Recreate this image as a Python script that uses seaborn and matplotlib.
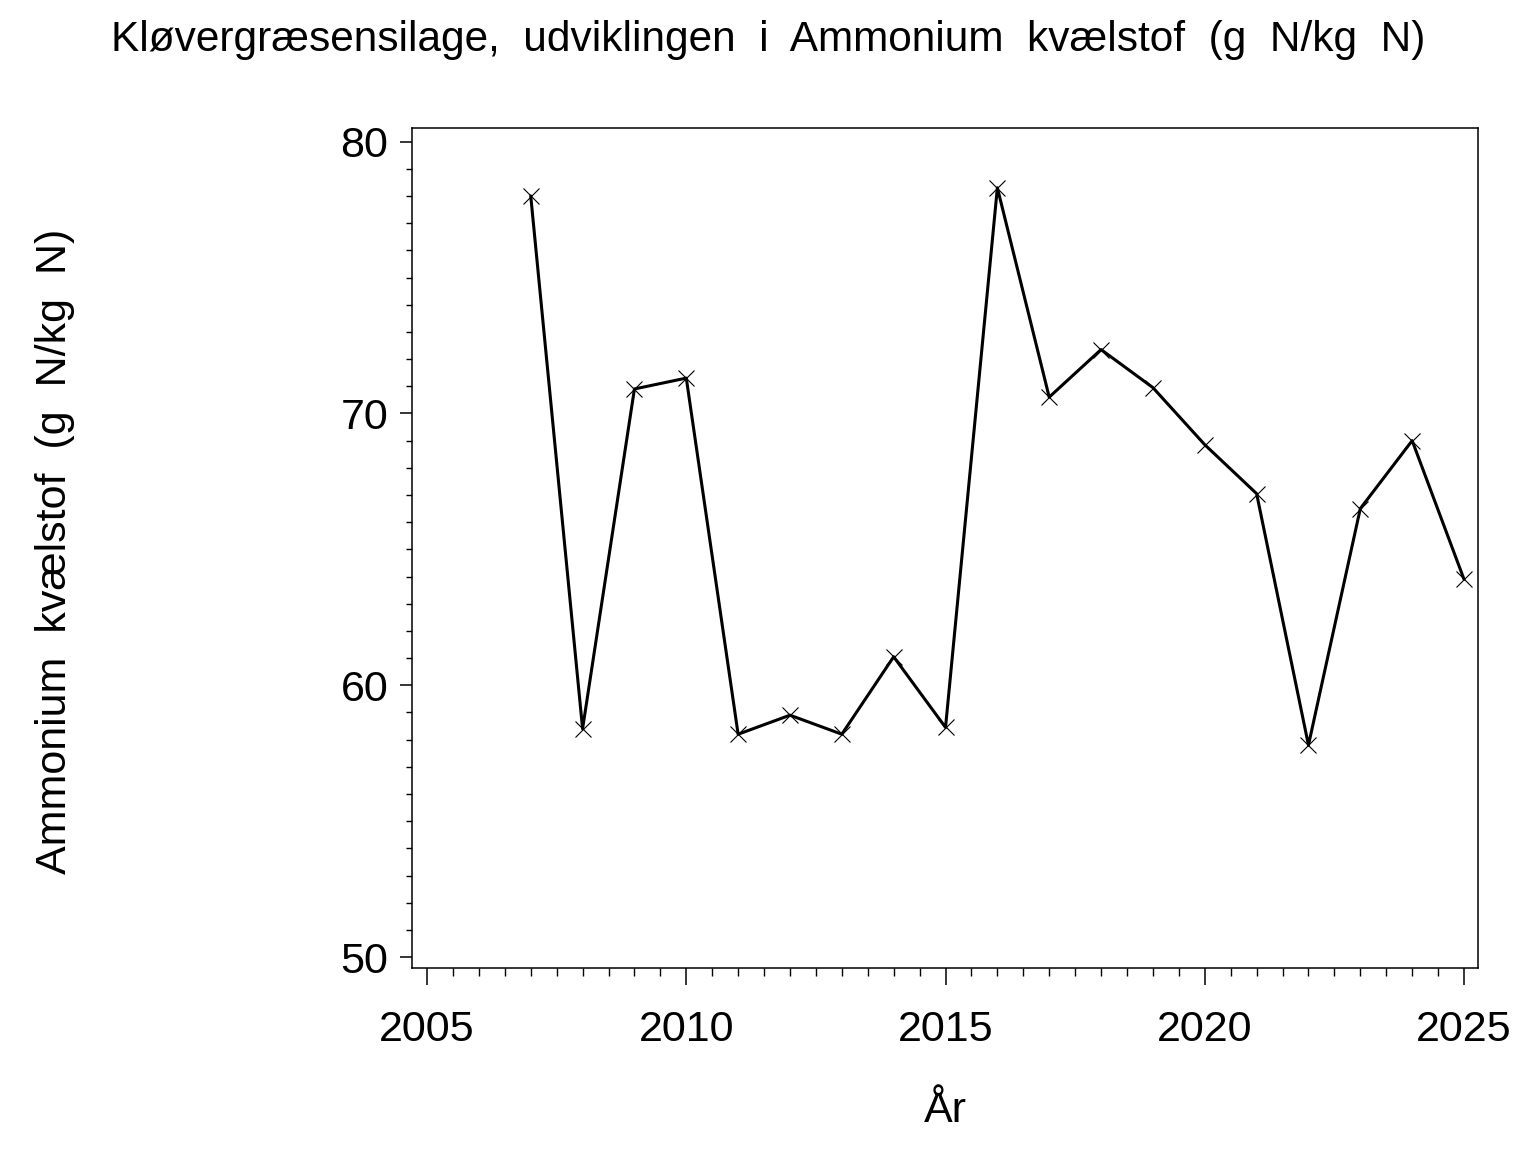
import numpy as np
import pandas as pd
import seaborn as sns
import matplotlib.pyplot as plt
from matplotlib.ticker import MultipleLocator

years = [2007, 2008, 2009, 2010, 2011, 2012, 2013, 2014, 2015, 2016,
         2017, 2018, 2019, 2020, 2021, 2022, 2023, 2024, 2025]
ammonium = [78.0, 58.4, 70.9, 71.3, 58.2, 58.9, 58.2, 61.05, 58.45, 78.3,
            70.6, 72.35, 70.95, 68.85, 67.05, 57.8, 66.5, 69.0, 63.9]

title = "Kløvergræsensilage,  udviklingen  i  Ammonium  kvælstof  (g  N/kg  N)"
y_label = "Ammonium  kvælstof  (g  N/kg  N)"
x_label = "År"

df = pd.DataFrame({"year": years, "value": ammonium})

sns.set_theme(style="ticks")
plt.rcParams["font.family"] = ["Liberation Sans", "DejaVu Sans"]
plt.rcParams["text.color"] = "black"
plt.rcParams["axes.labelcolor"] = "black"

fig = plt.figure(figsize=(15.36, 11.52), dpi=100)
ax = fig.add_axes([412 / 1536, 1 - 968 / 1152, (1478 - 412) / 1536, (968 - 128) / 1152])

sns.lineplot(data=df, x="year", y="value", ax=ax, color="black", linewidth=2.2,
             marker="x", markersize=12, markeredgewidth=0.8, markeredgecolor="black")

ax.set_xlim(2004.71, 2025.27)
ax.set_ylim(49.6, 80.5)
ax.xaxis.set_major_locator(MultipleLocator(5))
ax.xaxis.set_minor_locator(MultipleLocator(0.5))
ax.yaxis.set_major_locator(MultipleLocator(10))
ax.yaxis.set_minor_locator(MultipleLocator(1))

for side in ["top", "right", "bottom", "left"]:
    ax.spines[side].set_visible(True)
    ax.spines[side].set_linewidth(1.1)
    ax.spines[side].set_color("black")

ax.tick_params(axis="both", which="major", direction="out", color="black",
               width=1.1, labelsize=31, labelcolor="black")
ax.tick_params(axis="y", which="major", length=9, pad=8)
ax.tick_params(axis="y", which="minor", length=4.5, width=1.0, color="black")
ax.tick_params(axis="x", which="major", length=12, pad=18)
ax.tick_params(axis="x", which="minor", length=6, width=1.0, color="black")

ax.set_xlabel(x_label, fontsize=31, labelpad=30)
ax.set_ylabel("")
fig.text(55 / 1536, 1 - 551 / 1152, y_label, rotation=90, fontsize=31,
         ha="center", va="center")
fig.suptitle(title, fontsize=30.5, y=1 - 40 / 1152, va="center")

fig.savefig("out.png", dpi=100)
